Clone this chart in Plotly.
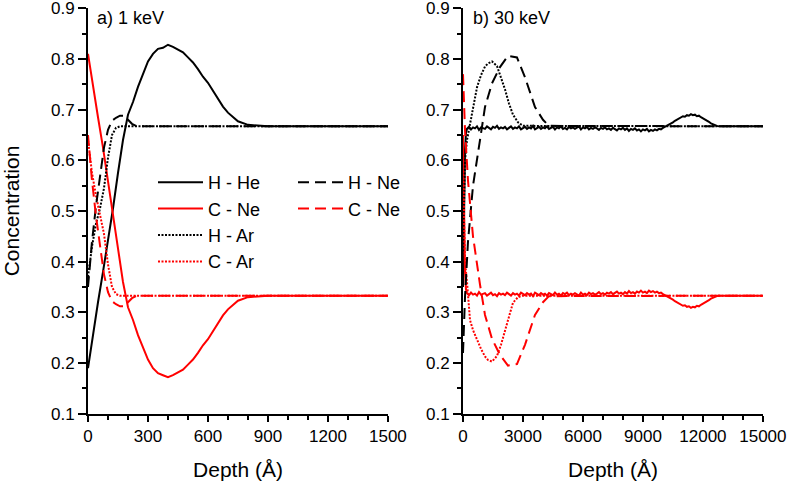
import plotly.graph_objects as go

# ---------------- data: panel a) 1 keV ----------------
depth_1k_he = [0, 25, 50, 75, 100, 125, 150, 175, 200, 225, 250, 275, 300, 325, 350, 375,
               400, 425, 450, 475, 500, 525, 550, 575, 600, 625, 650, 675, 700, 725, 750,
               800, 850, 900, 1000, 1500]
h_he_1k = [0.19, 0.26, 0.32, 0.38, 0.44, 0.505, 0.575, 0.64, 0.69, 0.715, 0.745, 0.77, 0.795,
           0.81, 0.82, 0.822, 0.828, 0.824, 0.818, 0.813, 0.803, 0.793, 0.78, 0.765, 0.753,
           0.737, 0.72, 0.706, 0.694, 0.685, 0.677, 0.670, 0.668, 0.667, 0.667, 0.667]
c_he_1k = [0.81, 0.745, 0.685, 0.625, 0.56, 0.495, 0.425, 0.36, 0.31, 0.285, 0.255, 0.232,
           0.207, 0.19, 0.18, 0.176, 0.172, 0.176, 0.182, 0.187, 0.197, 0.207, 0.22, 0.235,
           0.247, 0.263, 0.28, 0.294, 0.306, 0.315, 0.323, 0.330, 0.332, 0.333, 0.333, 0.333]

depth_1k_ar = [0, 20, 40, 60, 80, 100, 120, 140, 160, 180, 300, 1500]
h_ar_1k = [0.37, 0.43, 0.475, 0.505, 0.545, 0.605, 0.65, 0.664, 0.667, 0.667, 0.667, 0.667]
c_ar_1k = [0.64, 0.575, 0.53, 0.495, 0.455, 0.395, 0.35, 0.336, 0.333, 0.333, 0.333, 0.333]

depth_1k_ne = [0, 20, 40, 60, 80, 100, 120, 140, 160, 180, 200, 220, 240, 260, 1500]
h_ne_1k = [0.35, 0.44, 0.51, 0.57, 0.625, 0.66, 0.678, 0.684, 0.688, 0.688, 0.68, 0.672,
           0.668, 0.667, 0.667]
c_ne_1k = [0.65, 0.56, 0.49, 0.43, 0.375, 0.34, 0.322, 0.316, 0.312, 0.312, 0.32, 0.328,
           0.332, 0.333, 0.333]

# ---------------- data: panel b) 30 keV ----------------
depth_30k_he = [0, 50, 100, 150] + list(range(200, 13001, 100)) + [14000, 15000]
h_he_30k = [0.35, 0.52, 0.62, 0.655,
            0.662, 0.666, 0.661, 0.665, 0.663, 0.667, 0.660, 0.665, 0.664,
            0.662, 0.667, 0.663, 0.661, 0.666, 0.664, 0.668, 0.662, 0.665, 0.663,
            0.666, 0.661, 0.664, 0.667, 0.662, 0.665, 0.663, 0.667, 0.661, 0.664,
            0.666, 0.662, 0.665, 0.663, 0.668, 0.661, 0.664, 0.666, 0.662, 0.665,
            0.663, 0.667, 0.662, 0.664, 0.666, 0.661, 0.665, 0.663, 0.667, 0.662,
            0.664, 0.661, 0.666, 0.663, 0.665, 0.662, 0.664, 0.667, 0.661, 0.665,
            0.663, 0.666, 0.661, 0.664, 0.662, 0.665, 0.663, 0.660, 0.664, 0.662,
            0.665, 0.661, 0.663, 0.660, 0.664, 0.662, 0.659, 0.663, 0.661, 0.664,
            0.660, 0.663, 0.658, 0.662, 0.660, 0.663, 0.659, 0.661, 0.657, 0.661,
            0.659, 0.662, 0.657, 0.660, 0.658, 0.661, 0.659, 0.662, 0.661, 0.664,
            0.666, 0.668, 0.670, 0.673, 0.675, 0.678, 0.680, 0.683, 0.684, 0.687,
            0.686, 0.689, 0.688, 0.691, 0.689, 0.690, 0.687, 0.688, 0.685, 0.683,
            0.681, 0.678, 0.676, 0.673, 0.671, 0.669, 0.668, 0.667, 0.667, 0.667,
            0.667, 0.667]
c_he_30k = [0.65, 0.48, 0.38, 0.345,
            0.338, 0.334, 0.339, 0.335, 0.337, 0.333, 0.340, 0.335, 0.336,
            0.338, 0.333, 0.337, 0.339, 0.334, 0.336, 0.332, 0.338, 0.335, 0.337,
            0.334, 0.339, 0.336, 0.333, 0.338, 0.335, 0.337, 0.333, 0.339, 0.336,
            0.334, 0.338, 0.335, 0.337, 0.332, 0.339, 0.336, 0.334, 0.338, 0.335,
            0.337, 0.333, 0.338, 0.336, 0.334, 0.339, 0.335, 0.337, 0.333, 0.338,
            0.336, 0.339, 0.334, 0.337, 0.335, 0.338, 0.336, 0.333, 0.339, 0.335,
            0.337, 0.334, 0.339, 0.336, 0.338, 0.335, 0.337, 0.340, 0.336, 0.338,
            0.335, 0.339, 0.337, 0.340, 0.336, 0.338, 0.341, 0.337, 0.339, 0.336,
            0.340, 0.337, 0.342, 0.338, 0.340, 0.337, 0.341, 0.339, 0.343, 0.339,
            0.341, 0.338, 0.343, 0.340, 0.342, 0.339, 0.341, 0.338, 0.339, 0.336,
            0.334, 0.332, 0.330, 0.327, 0.325, 0.322, 0.320, 0.317, 0.316, 0.313,
            0.314, 0.311, 0.312, 0.309, 0.311, 0.310, 0.313, 0.312, 0.315, 0.317,
            0.319, 0.322, 0.324, 0.327, 0.329, 0.331, 0.332, 0.333, 0.333, 0.333,
            0.333, 0.333]

depth_30k_ar = [0, 100, 200, 350, 500, 700, 900, 1100, 1250, 1450, 1700, 1900, 2100, 2300,
                2500, 2750, 3000, 15000]
h_ar_30k = [0.42, 0.60, 0.64, 0.673, 0.705, 0.744, 0.768, 0.785, 0.791, 0.795, 0.786, 0.765,
            0.74, 0.712, 0.69, 0.675, 0.668, 0.667]
c_ar_30k = [0.58, 0.40, 0.36, 0.285, 0.265, 0.246, 0.228, 0.213, 0.206, 0.203, 0.214, 0.236,
            0.265, 0.292, 0.319, 0.330, 0.333, 0.333]

depth_30k_ne = [0, 100, 250, 500, 850, 1100, 1450, 1850, 2250, 2700, 3100, 3600, 4000, 4300,
                15000]
h_ne_30k = [0.22, 0.33, 0.44, 0.55, 0.64, 0.705, 0.752, 0.784, 0.806, 0.803, 0.764, 0.705,
            0.68, 0.668, 0.667]
c_ne_30k = [0.77, 0.66, 0.56, 0.45, 0.355, 0.295, 0.248, 0.216, 0.195, 0.198, 0.236, 0.295,
            0.32, 0.332, 0.333]

x1_ticks = [0, 300, 600, 900, 1200, 1500]
x2_ticks = [0, 3000, 6000, 9000, 12000, 15000]
y_ticks = [0.1, 0.2, 0.3, 0.4, 0.5, 0.6, 0.7, 0.8, 0.9]
panel_labels = ["a) 1 keV", "b) 30 keV"]

BLACK = "#000000"
RED = "#ff0000"
FONT = "Arial, Liberation Sans, sans-serif"
DASH = "11px,6px"
DOT = "2px,1.5px"

fig = go.Figure()

series = [
    # name, x, y, color, dash, legend, panel
    ("H - He", depth_1k_he, h_he_1k, BLACK, "solid", "legend", 1),
    ("C - Ne", depth_1k_he, c_he_1k, RED, "solid", "legend", 1),
    ("H - Ar", depth_1k_ar, h_ar_1k, BLACK, DOT, "legend", 1),
    ("C - Ar", depth_1k_ar, c_ar_1k, RED, DOT, "legend", 1),
    ("H - Ne", depth_1k_ne, h_ne_1k, BLACK, DASH, "legend2", 1),
    ("C - Ne", depth_1k_ne, c_ne_1k, RED, DASH, "legend2", 1),
    ("H - He", depth_30k_he, h_he_30k, BLACK, "solid", "legend", 2),
    ("C - Ne", depth_30k_he, c_he_30k, RED, "solid", "legend", 2),
    ("H - Ar", depth_30k_ar, h_ar_30k, BLACK, DOT, "legend", 2),
    ("C - Ar", depth_30k_ar, c_ar_30k, RED, DOT, "legend", 2),
    ("H - Ne", depth_30k_ne, h_ne_30k, BLACK, DASH, "legend2", 2),
    ("C - Ne", depth_30k_ne, c_ne_30k, RED, DASH, "legend2", 2),
]

for name, xs, ys, color, dash, leg, panel in series:
    fig.add_trace(go.Scatter(
        x=xs, y=ys, mode="lines", name=name,
        line=dict(color=color, dash=dash, width=2),
        xaxis="x" if panel == 1 else "x2",
        yaxis="y" if panel == 1 else "y2",
        legend=leg, showlegend=(panel == 1),
    ))

W, H = 788, 481
minor_common = dict(ticks="outside", ticklen=4, tickwidth=1.5, tickcolor=BLACK)
axis_common = dict(
    showline=True, linecolor=BLACK, linewidth=2, showgrid=False, zeroline=False,
    ticks="outside", tickwidth=1.5, tickcolor=BLACK, automargin=False,
    ticklabeloverflow="allow",
    tickfont=dict(family=FONT, size=17, color=BLACK), mirror=False,
)
title_font = dict(family=FONT, size=21, color=BLACK)
legend_common = dict(xanchor="left", yanchor="top", bgcolor="rgba(0,0,0,0)",
                     font=dict(family=FONT, size=18, color=BLACK), tracegroupgap=0,
                     itemwidth=45)

fig.update_layout(
    width=W, height=H,
    template="none",
    margin=dict(l=0, r=0, t=8, b=67),
    paper_bgcolor="white", plot_bgcolor="white",
    font=dict(family=FONT, color=BLACK),
    xaxis=dict(domain=[88 / W, 388 / W], range=[0, 1500.5], tickvals=x1_ticks, ticklen=6,
               minor=dict(dtick=100, **minor_common),
               title=dict(text="Depth (Å)", font=title_font, standoff=18),
               anchor="y", **axis_common),
    yaxis=dict(domain=[0, 1], range=[0.0995, 0.9005], tickvals=y_ticks, tickformat=".1f",
               ticklen=8, minor=dict(dtick=0.05, **minor_common),
               title=dict(text="Concentration", font=title_font, standoff=28),
               anchor="x", **axis_common),
    xaxis2=dict(domain=[463 / W, 763 / W], range=[0, 15005], tickvals=x2_ticks, ticklen=6,
                tickformat="d", minor=dict(dtick=1000, **minor_common),
                title=dict(text="Depth (Å)", font=title_font, standoff=18),
                anchor="y2", **axis_common),
    yaxis2=dict(domain=[0, 1], range=[0.0995, 0.9005], tickvals=y_ticks, tickformat=".1f",
                ticklen=8, minor=dict(dtick=0.05, **minor_common),
                anchor="x2", **axis_common),
    legend=dict(x=153 / W, y=1 - (164 - 8) / 406, **legend_common),
    legend2=dict(x=293 / W, y=1 - (164 - 8) / 406, **legend_common),
    annotations=[
        dict(text=panel_labels[0], xref="x domain", yref="y domain", x=0.023, y=0.975,
             xanchor="left", yanchor="middle", showarrow=False,
             font=dict(family=FONT, size=18, color=BLACK)),
        dict(text=panel_labels[1], xref="x2 domain", yref="y2 domain", x=0.027, y=0.975,
             xanchor="left", yanchor="middle", showarrow=False,
             font=dict(family=FONT, size=18, color=BLACK)),
    ],
)

fig.write_html("out.html", config={"displayModeBar": False},
               post_script="document.body.style.margin='0';")
